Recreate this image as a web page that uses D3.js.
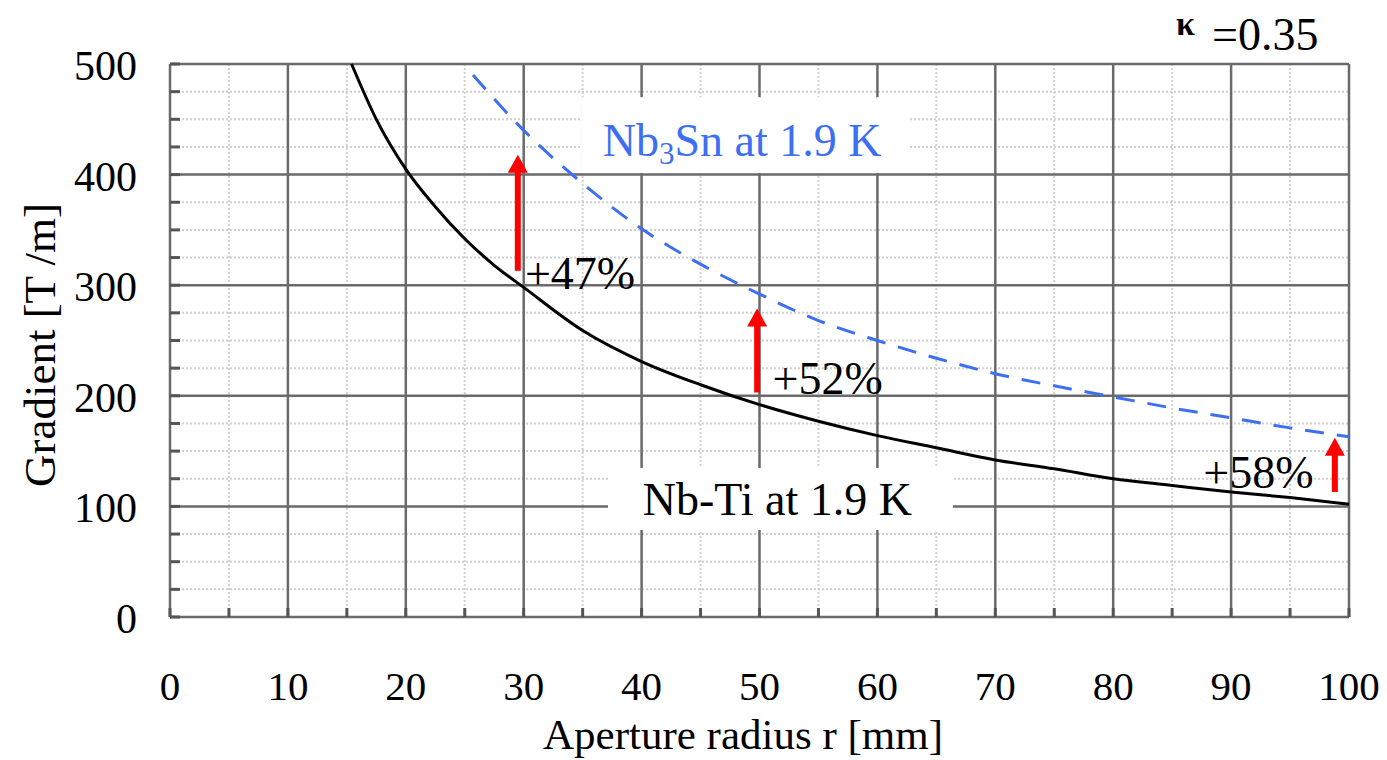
<!DOCTYPE html>
<html>
<head>
<meta charset="utf-8">
<script src="https://cdn.jsdelivr.net/npm/d3@7"></script>
<style>
  body { margin: 0; background: #fff; }
  text { font-family: "Liberation Serif", "Times New Roman", serif; fill: #000; }
</style>
</head>
<body>
<svg id="chart" width="1387" height="760"></svg>
<script>
// Nb-Ti at 1.9 K
const nbTiRadius = [15.4, 17.5, 20, 22.5, 25, 27.5, 30, 35, 40, 45, 50, 55, 60, 65, 70, 75, 80, 85, 90, 95, 100];
const nbTiGrad   = [500, 450, 405, 371, 342, 318, 298, 259, 231, 210, 192, 177, 164, 153, 142, 134, 125, 119, 113, 108, 102];
// Nb3Sn at 1.9 K
const snRadius = [25.7, 30, 35, 40, 45, 50, 55, 60, 65, 70, 75, 80, 85, 90, 95, 100];
const snGrad   = [490, 440, 392, 351, 319, 292, 268, 250, 234, 220, 209, 199, 189, 180, 171, 163];
// gain arrows
const arrowR    = [29.5, 49.8, 98.8];
const arrowFrom = [313, 203, 113];
const arrowTo   = [418, 279, 162];
const gainText  = ['+47%', '+52%', '+58%'];
const gainR     = [30.1, 51.1, 97.0];
const gainG     = [297, 202, 117];
// ticks
const xTicks = [0, 10, 20, 30, 40, 50, 60, 70, 80, 90, 100];
const yTicks = [0, 100, 200, 300, 400, 500];

const W = 1387, H = 760;
const margin = { top: 64, right: 38, bottom: 143, left: 170 };
const width = W - margin.left - margin.right;
const height = H - margin.top - margin.bottom;

const svg = d3.select('#chart');
const g = svg.append('g').attr('transform', `translate(${margin.left},${margin.top})`);

const x = d3.scaleLinear().domain([0, 100]).range([0, width]);
const y = d3.scaleLinear().domain([0, 500]).range([height, 0]);

// minor grid (dotted)
const minorX = d3.range(5, 100, 10);
const minorY = d3.range(25, 500, 25).filter(v => v % 100 !== 0);
g.append('g').selectAll('line').data(minorX).enter().append('line')
  .attr('x1', d => x(d)).attr('x2', d => x(d)).attr('y1', 0).attr('y2', height)
  .attr('stroke', '#d2d2d2').attr('stroke-width', 2).attr('stroke-dasharray', '2,2');
g.append('g').selectAll('line').data(minorY).enter().append('line')
  .attr('x1', 0).attr('x2', width).attr('y1', d => y(d)).attr('y2', d => y(d))
  .attr('stroke', '#cfcfcf').attr('stroke-width', 2).attr('stroke-dasharray', '2,2');

// major grid
g.append('g').selectAll('line').data(xTicks).enter().append('line')
  .attr('x1', d => x(d)).attr('x2', d => x(d)).attr('y1', 0).attr('y2', height)
  .attr('stroke', '#6a6a6a').attr('stroke-width', 2.5);
g.append('g').selectAll('line').data(yTicks).enter().append('line')
  .attr('x1', 0).attr('x2', width).attr('y1', d => y(d)).attr('y2', d => y(d))
  .attr('stroke', '#6a6a6a').attr('stroke-width', 2.5);

// small inward ticks
g.append('g').selectAll('line').data(d3.range(0, 501, 25)).enter().append('line')
  .attr('x1', 0).attr('x2', 10).attr('y1', d => y(d)).attr('y2', d => y(d))
  .attr('stroke', '#555').attr('stroke-width', 3);
g.append('g').selectAll('line').data(d3.range(0, 101, 5)).enter().append('line')
  .attr('x1', d => x(d)).attr('x2', d => x(d)).attr('y1', height).attr('y2', height - 9)
  .attr('stroke', '#555').attr('stroke-width', 3);

// white label boxes
g.append('rect').attr('x', x(34.9)).attr('y', y(470)).attr('width', x(62.6) - x(34.9))
  .attr('height', y(401.5) - y(470)).attr('fill', '#fff');
g.append('rect').attr('x', x(37.15)).attr('y', y(134.7)).attr('width', x(66.4) - x(37.15))
  .attr('height', y(78.7) - y(134.7)).attr('fill', '#fff');

// curves
const line = d3.line().curve(d3.curveMonotoneX).x(d => x(d[0])).y(d => y(d[1]));
g.append('path').datum(d3.zip(nbTiRadius, nbTiGrad)).attr('d', line)
  .attr('fill', 'none').attr('stroke', '#000').attr('stroke-width', 3);
g.append('path').datum(d3.zip(snRadius, snGrad)).attr('d', line)
  .attr('fill', 'none').attr('stroke', '#3d6ff2').attr('stroke-width', 3)
  .attr('stroke-dasharray', '19,13');

// arrows
const headLen = 18, headW = 10;
arrowR.forEach((r, i) => {
  const ax = x(r), y0 = y(arrowFrom[i]), y1 = y(arrowTo[i]);
  g.append('line').attr('x1', ax).attr('x2', ax).attr('y1', y0).attr('y2', y1 + headLen - 1)
    .attr('stroke', '#ff0000').attr('stroke-width', 6);
  g.append('path')
    .attr('d', `M${ax},${y1} L${ax - headW},${y1 + headLen} L${ax + headW},${y1 + headLen} Z`)
    .attr('fill', '#ff0000');
});

// gain labels
g.selectAll('.gain').data(gainText).enter().append('text')
  .attr('class', 'gain')
  .attr('x', (d, i) => x(gainR[i])).attr('y', (d, i) => y(gainG[i]))
  .attr('text-anchor', (d, i) => i === 2 ? 'end' : 'start')
  .style('font-size', '46px').text(d => d);

// curve labels
const snLabel = g.append('text').attr('x', x(36.7)).attr('y', y(417))
  .style('font-size', '46px').style('fill', '#3d6ff2');
snLabel.append('tspan').text('Nb');
snLabel.append('tspan').text('3').style('font-size', '31px').attr('dy', 8);
snLabel.append('tspan').text('Sn at 1.9 K').attr('dy', -8);

g.append('text').attr('x', x(40.1)).attr('y', y(92)).style('font-size', '46px')
  .text('Nb-Ti at 1.9 K');

// tick labels
g.selectAll('.xt').data(xTicks).enter().append('text')
  .attr('x', d => x(d)).attr('y', height + 83).attr('text-anchor', 'middle')
  .style('font-size', '41px').text(d => d);
g.selectAll('.yt').data(yTicks).enter().append('text')
  .attr('x', -33).attr('y', d => y(d) + 16).attr('text-anchor', 'end')
  .style('font-size', '42px').text(d => d);

// axis titles
svg.append('text').attr('x', 743).attr('y', 749).attr('text-anchor', 'middle')
  .style('font-size', '43px').text('Aperture radius r [mm]');
svg.append('text').attr('transform', 'translate(55,345) rotate(-90)')
  .attr('text-anchor', 'middle').style('font-size', '45px').text('Gradient [T /m]');

// kappa
svg.append('text').attr('x', 1176).attr('y', 35).style('font-size', '34px')
  .style('font-weight', 'bold').text('κ');
svg.append('text').attr('x', 1212).attr('y', 50).style('font-size', '46px').text('=0.35');
</script>
</body>
</html>
